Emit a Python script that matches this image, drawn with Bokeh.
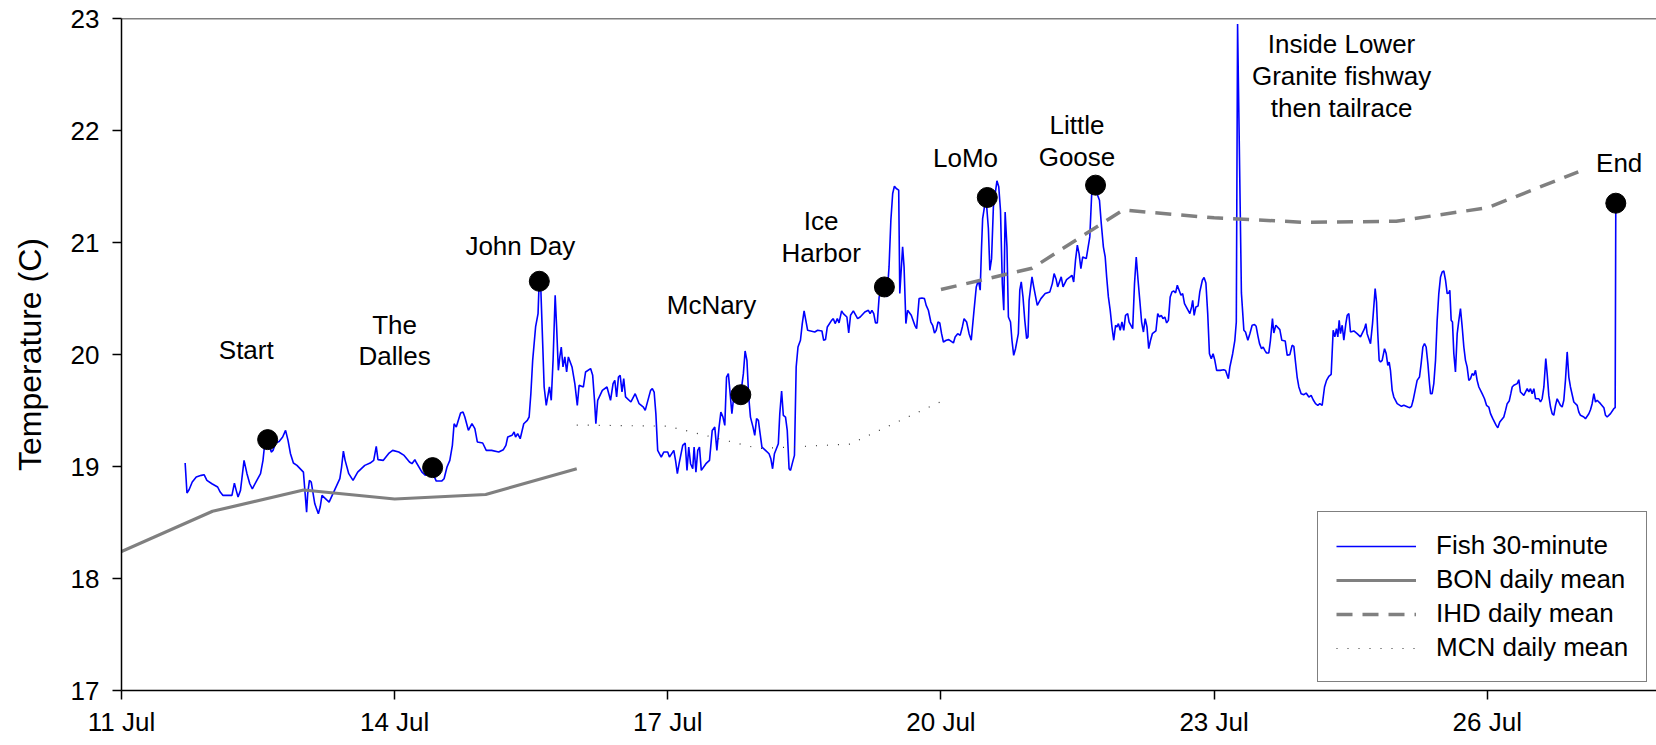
import pandas as pd
from bokeh.plotting import figure
from bokeh.models import ColumnDataSource, FixedTicker, DatetimeTickFormatter, Span
from bokeh.core.properties import value
from bokeh.embed import file_html
from bokeh.resources import INLINE

YEAR = 2011
FONT = "Liberation Sans"

# ---------------- data (day of July, temperature C) ----------------
fish_day = [
    11.699, 11.719, 11.742, 11.777, 11.821, 11.876, 11.907, 11.938, 11.993, 12.056,
    12.084, 12.115, 12.213, 12.240, 12.260, 12.280, 12.307, 12.346, 12.378, 12.409,
    12.437, 12.476, 12.527, 12.554, 12.574, 12.613, 12.645, 12.664, 12.692, 12.731,
    12.770, 12.802, 12.829, 12.856, 12.888, 12.927, 12.998, 13.017, 13.033, 13.045,
    13.064, 13.084, 13.123, 13.162, 13.182, 13.202, 13.260, 13.280, 13.339, 13.398,
    13.417, 13.437, 13.456, 13.496, 13.543, 13.594, 13.672, 13.731, 13.770, 13.798,
    13.817, 13.876, 13.939, 13.978, 14.045, 14.104, 14.163, 14.190, 14.222, 14.241,
    14.300, 14.339, 14.398, 14.457, 14.516, 14.543, 14.575, 14.606, 14.634, 14.653,
    14.677, 14.724, 14.751, 14.771, 14.810, 14.849, 14.881, 14.908, 14.967, 15.006,
    15.065, 15.143, 15.194, 15.222, 15.242, 15.289, 15.312, 15.328, 15.351, 15.379,
    15.418, 15.457, 15.477, 15.496, 15.516, 15.548, 15.575, 15.587, 15.606, 15.626,
    15.642, 15.665, 15.700, 15.720, 15.740, 15.763, 15.779, 15.798, 15.814, 15.830,
    15.849, 15.869, 15.889, 15.908, 15.948, 15.979, 16.006, 16.026, 16.073, 16.097,
    16.152, 16.175, 16.195, 16.210, 16.230, 16.281, 16.332, 16.371, 16.399, 16.418,
    16.438, 16.458, 16.477, 16.497, 16.516, 16.536, 16.595, 16.642, 16.685, 16.732,
    16.752, 16.811, 16.830, 16.850, 16.869, 16.889, 16.928, 16.956, 16.999, 17.018,
    17.066, 17.085, 17.105, 17.124, 17.164, 17.191, 17.211, 17.230, 17.250, 17.274,
    17.289, 17.309, 17.329, 17.348, 17.368, 17.419, 17.458,
    17.488, 17.516, 17.539, 17.563, 17.583, 17.606, 17.626, 17.645, 17.665, 17.685,
    17.704, 17.720, 17.743, 17.802, 17.830, 17.849, 17.869, 17.889, 17.908, 17.936,
    17.955, 17.975, 17.995, 18.014, 18.034, 18.073, 18.112, 18.132, 18.151, 18.171,
    18.214, 18.230, 18.250, 18.269, 18.293, 18.312, 18.332, 18.348, 18.371, 18.391,
    18.410, 18.430, 18.457, 18.477, 18.497, 18.516, 18.536, 18.614, 18.646, 18.693,
    18.712, 18.732, 18.752, 18.799, 18.818, 18.838, 18.862, 18.881, 18.909, 18.928,
    18.967, 18.987, 19.007, 19.038, 19.085, 19.113, 19.164, 19.203, 19.222, 19.242,
    19.262, 19.281, 19.301, 19.321, 19.340, 19.379, 19.407, 19.430, 19.450, 19.470,
    19.489, 19.509, 19.536, 19.548, 19.579, 19.595, 19.615, 19.634, 19.674, 19.713,
    19.733, 19.760, 19.791, 19.819, 19.838, 19.862, 19.889, 19.909, 19.929, 19.948,
    19.968, 19.987, 20.007, 20.027, 20.058, 20.086, 20.137, 20.156, 20.184, 20.211,
    20.235, 20.254, 20.282, 20.309, 20.333, 20.360, 20.388, 20.411, 20.431, 20.446,
    20.458, 20.478, 20.497, 20.521, 20.537, 20.556, 20.576, 20.596, 20.615, 20.635,
    20.654, 20.674, 20.690, 20.705, 20.725, 20.741, 20.764, 20.780, 20.799, 20.819,
    20.850, 20.866, 20.882, 20.901, 20.921, 20.941, 20.956, 20.968, 20.988, 21.000,
    21.019, 21.058, 21.098, 21.145, 21.196, 21.223, 21.243, 21.266, 21.282, 21.321,
    21.341, 21.380, 21.419, 21.439, 21.458, 21.478, 21.498, 21.517, 21.537, 21.557,
    21.596, 21.635, 21.655, 21.674, 21.694, 21.713, 21.741, 21.761, 21.784, 21.804,
    21.820, 21.839, 21.859, 21.878, 21.898, 21.918, 21.933, 21.949, 21.969, 21.988,
    22.008, 22.027, 22.051, 22.067, 22.106, 22.126, 22.145, 22.165, 22.184, 22.204,
    22.224, 22.243, 22.263, 22.282, 22.302, 22.322, 22.361, 22.381, 22.400, 22.420,
    22.439, 22.459, 22.479, 22.498, 22.518, 22.537, 22.557, 22.577, 22.596, 22.616,
    22.636, 22.655, 22.675, 22.694, 22.734, 22.753, 22.765, 22.781, 22.800, 22.824,
    22.843, 22.871, 22.890, 22.910, 22.930, 22.949, 22.969, 22.989, 23.008, 23.028,
    23.067, 23.106, 23.126, 23.157, 23.173, 23.204, 23.228, 23.244, 23.258, 23.300,
    23.327, 23.345, 23.371, 23.393, 23.418, 23.444, 23.462, 23.480, 23.499, 23.521,
    23.539, 23.557, 23.576, 23.601, 23.619, 23.641, 23.656, 23.678, 23.722, 23.744,
    23.781, 23.803, 23.832, 23.857, 23.876, 23.894, 23.912, 23.931, 23.956, 23.986,
    24.011, 24.041, 24.066, 24.088, 24.114, 24.139, 24.161, 24.187, 24.213, 24.235,
    24.260, 24.286, 24.308, 24.326, 24.344, 24.359, 24.374, 24.388, 24.407, 24.425,
    24.447, 24.462, 24.480, 24.498, 24.535, 24.571, 24.608, 24.652, 24.667, 24.681,
    24.718, 24.740, 24.769, 24.784, 24.798, 24.813, 24.828, 24.846, 24.872, 24.890,
    24.908, 24.923, 24.937, 24.956, 24.974, 25.011, 25.058, 25.084, 25.128, 25.150,
    25.168, 25.186, 25.208, 25.230, 25.256, 25.274, 25.293, 25.311, 25.329, 25.348,
    25.366, 25.377, 25.395, 25.413, 25.432, 25.450, 25.468, 25.487, 25.505, 25.523,
    25.542, 25.560, 25.578, 25.589, 25.604, 25.618, 25.633, 25.651, 25.670, 25.688,
    25.706, 25.725, 25.743, 25.761, 25.779, 25.798, 25.816, 25.834, 25.853, 25.871,
    25.889, 25.908, 25.944, 25.970, 25.992, 26.017, 26.036, 26.061, 26.098, 26.116,
    26.138, 26.182, 26.201, 26.219, 26.241, 26.259, 26.274, 26.292, 26.329, 26.347,
    26.365, 26.402, 26.439, 26.457, 26.475, 26.493, 26.512, 26.530, 26.567, 26.585,
    26.603, 26.622, 26.643, 26.658, 26.676, 26.695, 26.713, 26.731, 26.750, 26.768,
    26.804, 26.823, 26.841, 26.859, 26.878, 26.896, 26.914, 26.951, 26.988, 27.006,
    27.024, 27.061, 27.079, 27.116, 27.134, 27.152, 27.171, 27.189, 27.207, 27.244,
    27.281, 27.299, 27.317, 27.354, 27.390, 27.405, 27.412,
]
fish_temp = [
    19.031, 18.763, 18.792, 18.861, 18.906, 18.921, 18.927, 18.876, 18.846, 18.817,
    18.772, 18.742, 18.742, 18.852, 18.787, 18.727, 18.787, 19.055, 18.936, 18.846,
    18.801, 18.861, 18.936, 19.055, 19.210, 19.219, 19.129, 19.144, 19.210, 19.224,
    19.263, 19.323, 19.233, 19.114, 19.031, 19.010, 18.950, 18.757, 18.593, 18.757,
    18.876, 18.861, 18.667, 18.578, 18.638, 18.742, 18.697, 18.682, 18.787, 18.891,
    18.995, 19.138, 19.055, 18.936, 18.876, 18.950, 19.010, 19.031, 19.055, 19.180,
    19.061, 19.055, 19.120, 19.144, 19.129, 19.099, 19.040, 19.025, 19.061, 19.031,
    18.950, 18.921, 18.980, 18.870, 18.870, 18.891, 18.995, 19.055, 19.189, 19.382,
    19.352, 19.478, 19.487, 19.442, 19.323, 19.382, 19.338, 19.219, 19.210, 19.144,
    19.144, 19.129, 19.150, 19.189, 19.263, 19.278, 19.308, 19.263, 19.293, 19.248,
    19.382, 19.412, 19.442, 19.650, 19.948, 20.246, 20.365, 20.648, 20.574, 20.097,
    19.710, 19.546, 19.710, 19.591, 19.948, 20.529, 20.246, 19.859, 19.978, 20.067,
    19.889, 19.978, 19.844, 19.978, 19.889, 19.740, 19.546, 19.725, 19.710, 19.844,
    19.874, 19.814, 19.591, 19.382, 19.591, 19.680, 19.710, 19.591, 19.740, 19.770,
    19.621, 19.799, 19.814, 19.665, 19.784, 19.621, 19.576, 19.650, 19.561, 19.531,
    19.501, 19.680, 19.695, 19.665, 19.472, 19.144, 19.084, 19.129, 19.129, 19.084,
    19.144, 19.055, 18.936, 19.025, 19.189, 19.210, 18.965, 19.174, 19.025, 18.980,
    19.174, 18.950, 19.144, 19.174, 18.965, 19.025, 19.055,
    19.322, 19.352, 19.144, 19.352, 19.486, 19.441, 19.367, 19.799, 19.829, 19.650,
    19.471, 19.590, 19.620, 19.650, 19.829, 20.031, 19.948, 19.620, 19.441, 19.352,
    19.278, 19.427, 19.412, 19.293, 19.173, 19.144, 19.114, 19.069, 18.980, 19.114,
    19.203, 19.471, 19.674, 19.456, 19.441, 19.322, 18.980, 18.965, 19.039, 19.099,
    19.888, 20.067, 20.127, 20.276, 20.389, 20.305, 20.216, 20.201, 20.216, 20.210,
    20.127, 20.133, 20.246, 20.305, 20.320, 20.276, 20.320, 20.282, 20.389, 20.365,
    20.335, 20.192, 20.350, 20.389, 20.320, 20.335, 20.380, 20.395, 20.365, 20.395,
    20.365, 20.282, 20.282, 20.514, 20.559, 20.603, 20.514, 20.782, 21.199, 21.437,
    21.503, 21.482, 21.467, 20.544, 20.961, 20.782, 20.276, 20.395, 20.350, 20.261,
    20.231, 20.499, 20.505, 20.499, 20.439, 20.395, 20.290, 20.261, 20.192, 20.216,
    20.290, 20.282, 20.186, 20.112, 20.127, 20.133, 20.103, 20.156, 20.186, 20.171,
    20.246, 20.320, 20.290, 20.186, 20.127, 20.365, 20.603, 20.663, 20.574, 20.961,
    21.214, 21.318, 21.378, 21.125, 20.752, 20.856, 21.318, 21.437, 21.551, 21.497,
    21.288, 20.633, 20.395, 21.273, 20.961, 20.335, 20.290, 20.127, 19.993, 20.052,
    20.186, 20.574, 20.648, 20.514, 20.305, 20.142, 20.156, 20.484, 20.618, 20.693,
    20.603, 20.439, 20.499, 20.544, 20.559, 20.633, 20.722, 20.669, 20.603, 20.693,
    20.603, 20.669, 20.693, 20.707, 20.648, 20.842, 20.976, 20.901, 20.767, 20.871,
    20.856, 21.050, 21.422, 21.497, 21.527, 21.437, 21.378, 21.169, 20.961, 20.871,
    20.693, 20.514, 20.395, 20.246, 20.127, 20.261, 20.246, 20.276, 20.216, 20.290,
    20.216, 20.350, 20.365, 20.290, 20.231, 20.633, 20.871, 20.663, 20.484, 20.290,
    20.201, 20.320, 20.246, 20.052, 20.127, 20.186, 20.210, 20.365, 20.335, 20.350,
    20.320, 20.335, 20.282, 20.305, 20.514, 20.559, 20.567, 20.550, 20.618, 20.574,
    20.529, 20.544, 20.454, 20.425, 20.365, 20.425, 20.484, 20.350, 20.425, 20.433,
    20.559, 20.663, 20.687, 20.639, 20.365, 20.007, 19.963, 20.007, 19.948, 19.858,
    19.858, 19.864, 19.858, 19.784, 19.888, 20.007, 20.127, 20.290, 22.950, 20.550,
    20.216, 20.201, 20.127, 20.186, 20.261, 20.267, 20.252, 20.171, 20.097, 20.052,
    20.067, 20.037, 20.014, 20.014, 20.127, 20.320, 20.192, 20.261, 20.222, 20.127,
    20.121, 19.993, 19.999, 20.082, 20.073, 19.933, 19.799, 19.710, 19.650, 19.641,
    19.656, 19.620, 19.635, 19.596, 19.561, 19.546, 19.561, 19.546, 19.710, 19.769,
    19.805, 19.823, 20.216, 20.157, 20.231, 20.157, 20.305, 20.186, 20.261, 20.127,
    20.276, 20.350, 20.365, 20.201, 20.210, 20.186, 20.157, 20.231, 20.276, 20.186,
    20.097, 20.276, 20.588, 20.469, 20.186, 19.948, 19.933, 19.948, 20.052, 20.008,
    19.903, 19.933, 19.859, 19.680, 19.620, 19.561, 19.537, 19.546, 19.531, 19.525,
    19.537, 19.591, 19.680, 19.769, 19.799, 19.918, 20.067, 20.097, 20.067, 19.918,
    19.740, 19.650, 19.650, 19.740, 19.948, 20.305, 20.544, 20.693, 20.737, 20.746,
    20.663, 20.544, 20.550, 20.573, 20.305, 20.291, 20.008, 19.844, 20.186, 20.305,
    20.410, 20.246, 20.067, 19.948, 19.889, 19.769, 19.784, 19.829, 19.814, 19.859,
    19.769, 19.710, 19.650, 19.605, 19.546, 19.531, 19.472, 19.427, 19.367, 19.346,
    19.397, 19.442, 19.501, 19.561, 19.584, 19.650, 19.710, 19.725, 19.740, 19.775,
    19.665, 19.635, 19.695, 19.665, 19.695, 19.650, 19.695, 19.605, 19.605, 19.576,
    19.605, 19.710, 19.963, 19.829, 19.635, 19.531, 19.472, 19.457, 19.546, 19.605,
    19.546, 19.531, 19.591, 19.769, 20.023, 19.799, 19.710, 19.576, 19.546, 19.486,
    19.457, 19.442, 19.427, 19.471, 19.507, 19.561, 19.650, 19.576, 19.591, 19.561,
    19.525, 19.457, 19.442, 19.472, 19.516, 19.525, 21.350,
]

bon_day = [11, 12, 13, 14, 15, 16]
bon_temp = [18.24, 18.60, 18.79, 18.71, 18.75, 18.98]

ihd_day = [20, 21, 22, 23, 24, 25, 26, 27]
ihd_temp = [20.58, 20.77, 21.29, 21.22, 21.18, 21.19, 21.31, 21.63]

mcn_day = [16, 17, 18, 19, 20]
mcn_temp = [19.37, 19.36, 19.16, 19.20, 19.58]

site_day = [12.605, 14.417, 15.589, 17.802, 19.379, 20.509, 21.698, 27.412]
site_temp = [19.24, 18.99, 20.654, 19.641, 20.603, 21.402, 21.512, 21.351]

label_text = ["Start", "The\nDalles", "John Day", "McNary", "Ice\nHarbor", "LoMo",
              "Little\nGoose", "Inside Lower\nGranite fishway\nthen tailrace", "End"]
label_day = [12.37, 14.00, 15.38, 17.48, 18.685, 20.27, 21.494, 24.40, 27.449]
label_temp = [20.04, 20.125, 20.97, 20.44, 21.046, 21.751, 21.908, 22.484, 21.706]

tick_days = [11, 14, 17, 20, 23, 26]
y_ticks = [17, 18, 19, 20, 21, 22, 23]
y_title = "Temperature (C)"


def to_dt(days):
    base = pd.Timestamp(YEAR, 7, 1)
    return [base + pd.Timedelta(days=d - 1) for d in days]


def to_ms(days):
    epoch = pd.Timestamp(1970, 1, 1)
    return [(t - epoch).total_seconds() * 1000.0 for t in to_dt(days)]


x_start, x_end = to_dt([11, 27.859])

p = figure(width=1656, height=745, x_axis_type="datetime",
           x_range=(x_start, x_end), y_range=(17, 23),
           output_backend="svg", toolbar_location=None,
           min_border_left=121, min_border_right=0,
           min_border_top=18, min_border_bottom=55)
p.outline_line_color = None
p.grid.visible = False
p.background_fill_color = "white"
p.border_fill_color = "white"

p.add_layout(Span(location=23, dimension="width", line_color="black", line_width=1.5))

p.line(to_dt(fish_day), fish_temp, color="#0000FF", line_width=1.6,
       legend_label="Fish 30-minute")
p.line(to_dt(bon_day), bon_temp, color="#808080", line_width=3.2,
       legend_label="BON daily mean")
p.line(to_dt(ihd_day), ihd_temp, color="#808080", line_width=3.5, line_dash="16 10",
       legend_label="IHD daily mean")
p.line(to_dt(mcn_day), mcn_temp, color="#333333", line_width=1.2, line_dash="1 10",
       legend_label="MCN daily mean")

p.scatter(to_dt(site_day), site_temp, size=20, color="black", marker="circle")

lab_src = ColumnDataSource(dict(x=to_dt(label_day), y=label_temp, t=label_text))
p.text(x="x", y="y", text="t", source=lab_src, text_align="center",
       text_baseline="middle", text_font=value(FONT), text_font_size="26px",
       text_color="black", text_line_height=1.06)

for ax in (p.xaxis[0], p.yaxis[0]):
    ax.axis_line_color = "black"
    ax.axis_line_width = 1.5
    ax.major_tick_line_color = "black"
    ax.major_tick_line_width = 1.5
    ax.major_tick_in = 0
    ax.major_tick_out = 9
    ax.minor_tick_in = 0
    ax.minor_tick_out = 0
    ax.major_label_text_font = FONT
    ax.major_label_text_font_size = "26px"
    ax.major_label_text_color = "black"

p.yaxis.ticker = FixedTicker(ticks=y_ticks)
p.yaxis.major_label_standoff = 13
p.yaxis.axis_label = y_title
p.yaxis.axis_label_text_font = FONT
p.yaxis.axis_label_text_font_size = "32px"
p.yaxis.axis_label_text_font_style = "normal"
p.yaxis.axis_label_text_color = "black"
p.yaxis.axis_label_standoff = 20

p.xaxis.ticker = FixedTicker(ticks=to_ms(tick_days))
fmt = "%d %b"
p.xaxis.formatter = DatetimeTickFormatter(days=fmt, months=fmt, years=fmt, hours=fmt,
                                          hourmin=fmt, minutes=fmt)
p.xaxis.major_label_standoff = 7

lg = p.legend[0]
lg.location = (1196, 8)
lg.border_line_color = "black"
lg.border_line_width = 1.5
lg.background_fill_color = "white"
lg.background_fill_alpha = 1.0
lg.padding = 18
lg.spacing = 3
lg.margin = 0
lg.glyph_width = 80
lg.glyph_height = 20
lg.label_standoff = 20
lg.label_text_font = FONT
lg.label_text_font_size = "26px"
lg.label_text_color = "black"

open("out.html", "w").write(file_html(p, INLINE))
